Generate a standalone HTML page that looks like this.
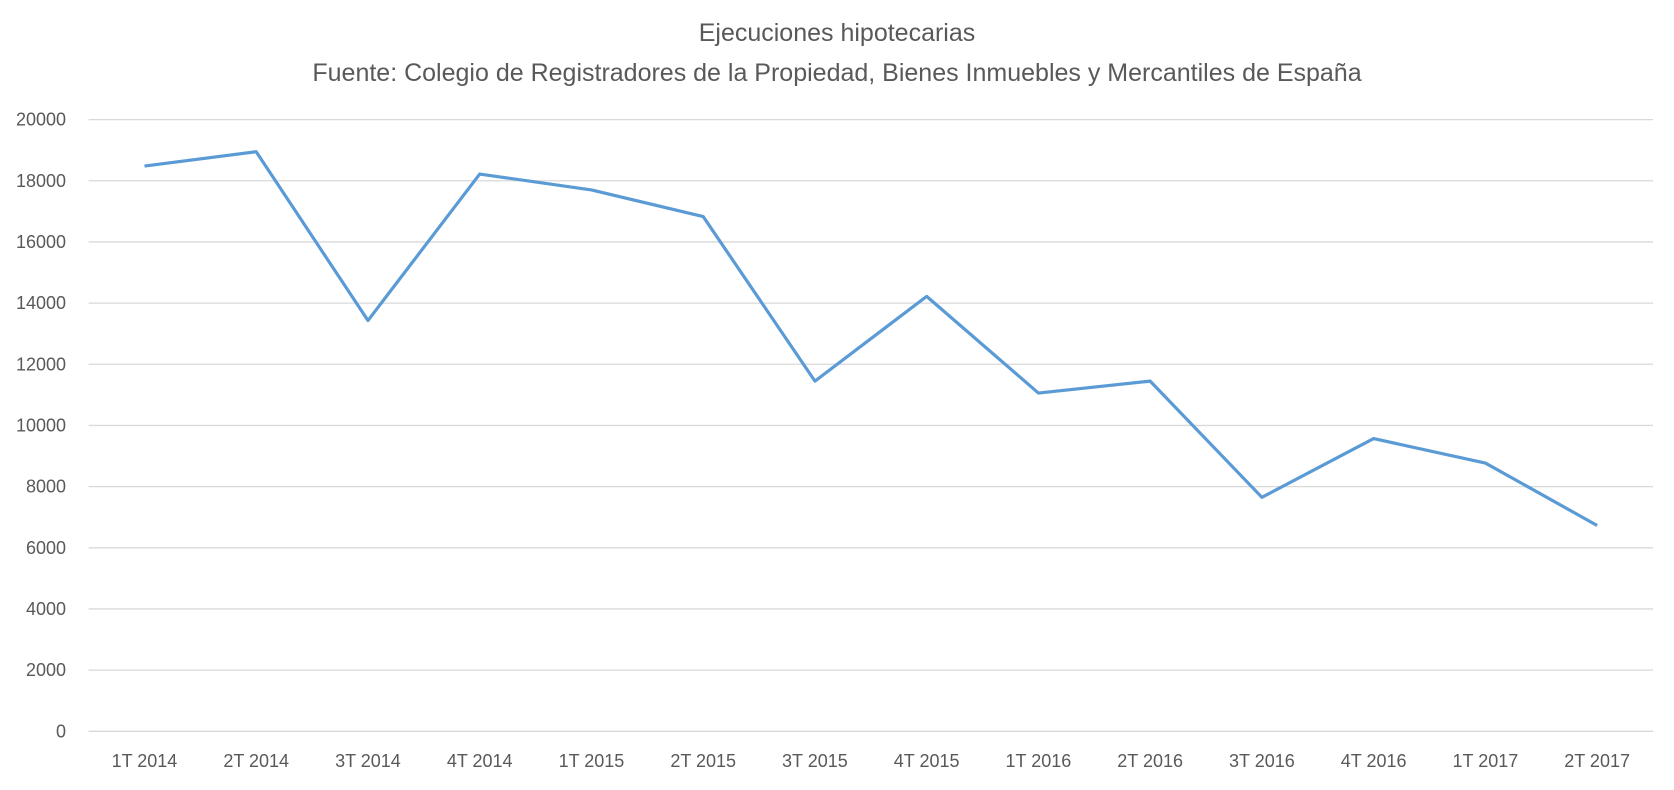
<!DOCTYPE html>
<html><head><meta charset="utf-8"><style>
body{margin:0;background:#fff;}
svg text{font-family:"Liberation Sans",sans-serif;fill:#595959;}
</style></head><body>
<svg width="1674" height="785">
<text x="837" y="41" text-anchor="middle" font-size="25">Ejecuciones hipotecarias</text>
<text x="837" y="81" text-anchor="middle" font-size="25">Fuente: Colegio de Registradores de la Propiedad, Bienes Inmuebles y Mercantiles de España</text>
<g id="grid"></g><g id="yt"></g><g id="xt"></g><g id="ln"></g>
</svg>
<script>
const categories=["1T 2014","2T 2014","3T 2014","4T 2014","1T 2015","2T 2015","3T 2015","4T 2015","1T 2016","2T 2016","3T 2016","4T 2016","1T 2017","2T 2017"];
const values=[18480,18950,13430,18220,17700,16830,11450,14220,11060,11450,7650,9570,8770,6730];
const yTicks=[0,2000,4000,6000,8000,10000,12000,14000,16000,18000,20000];
const NS="http://www.w3.org/2000/svg";
const L=88.6,R=1653,T=119.6,B=731.3,yMax=20000;
const bw=(R-L)/categories.length;
const x=i=>L+bw*(i+0.5);
const y=v=>B-(v/yMax)*(B-T);
function mk(t,a,p){const e=document.createElementNS(NS,t);for(const k in a)e.setAttribute(k,a[k]);p.appendChild(e);return e;}
const g=document.getElementById('grid'),yt=document.getElementById('yt'),xt=document.getElementById('xt'),ln=document.getElementById('ln');
yTicks.forEach(v=>{
const l=mk('line',{x1:L,x2:R,y1:y(v),y2:y(v),stroke:'#d9d9d9','stroke-width':1.3},g);


const t=mk('text',{x:66,y:y(v)+6,'text-anchor':'end','font-size':18},yt);t.textContent=v;


});
categories.forEach((c,i)=>{
const t=mk('text',{x:x(i),y:767,'text-anchor':'middle','font-size':18},xt);t.textContent=c;


});
const p=mk('polyline',{points:values.map((v,i)=>x(i)+','+y(v)).join(' '),fill:'none',stroke:'#5b9bd5','stroke-width':3.2,'stroke-linejoin':'round'},ln);


</script>
</body></html>
